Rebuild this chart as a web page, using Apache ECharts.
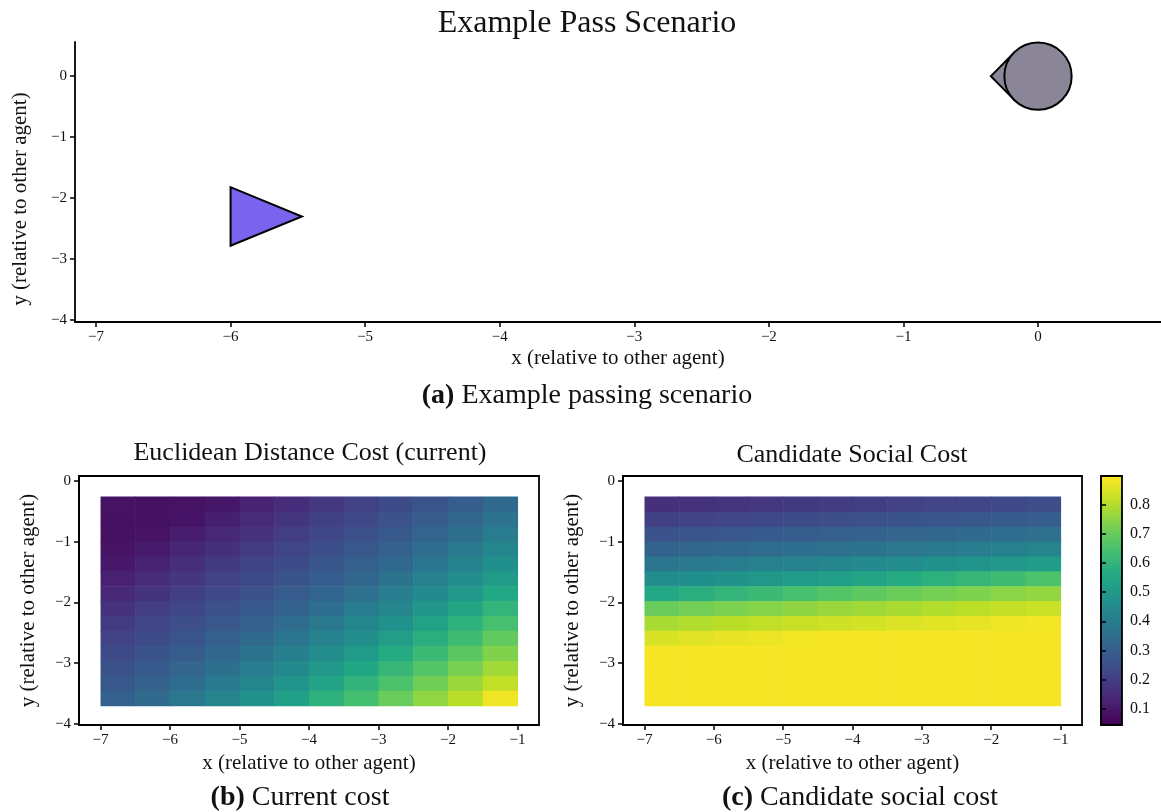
<!DOCTYPE html>
<html>
<head>
<meta charset="utf-8">
<script src="https://cdn.jsdelivr.net/npm/echarts@6/dist/echarts.min.js"></script>
<style>
html, body { margin: 0; padding: 0; background: #fff; }
#chartData { width: 1161px; height: 812px; }
</style>
</head>
<body>
<div id="chartData"></div>
<script>
// tick labels
var topXTicks = [-7, -6, -5, -4, -3, -2, -1, 0];
var yTicks = [0, -1, -2, -3, -4];
var heatXTicks = [-7, -6, -5, -4, -3, -2, -1];
var barTicks = [0.1, 0.2, 0.3, 0.4, 0.5, 0.6, 0.7, 0.8];

// (a) agents: ego triangle vertices, other agent [x, y, radius], its heading nose
var egoTriangle = [[-6.0, -1.82], [-6.0, -2.78], [-5.47, -2.30]];
var otherAgent = [[0, 0, 0.25]];
var otherNose = [[-0.35, 0], [-0.178, 0.385], [-0.178, -0.385]];

// (b)/(c) cost grids, sampled at cell centres
var cellX = [-6.75, -6.25, -5.75, -5.25, -4.75, -4.25, -3.75, -3.25, -2.75, -2.25, -1.75, -1.25];
var cellY = [-0.38, -0.63, -0.88, -1.12, -1.37, -1.61, -1.86, -2.10, -2.35, -2.59, -2.84, -3.09, -3.33, -3.58];

var euclidCost = [
    [0.084, 0.082, 0.084, 0.096, 0.123, 0.151, 0.180, 0.209, 0.237, 0.266, 0.295, 0.330],
    [0.083, 0.083, 0.090, 0.117, 0.145, 0.174, 0.203, 0.231, 0.259, 0.289, 0.323, 0.364],
    [0.082, 0.087, 0.111, 0.139, 0.168, 0.196, 0.225, 0.253, 0.282, 0.316, 0.354, 0.397],
    [0.086, 0.106, 0.133, 0.162, 0.191, 0.219, 0.247, 0.276, 0.308, 0.345, 0.389, 0.431],
    [0.100, 0.127, 0.155, 0.185, 0.213, 0.241, 0.270, 0.301, 0.336, 0.380, 0.422, 0.469],
    [0.121, 0.149, 0.178, 0.207, 0.235, 0.264, 0.293, 0.328, 0.370, 0.413, 0.459, 0.510],
    [0.143, 0.172, 0.201, 0.229, 0.258, 0.287, 0.321, 0.361, 0.404, 0.448, 0.498, 0.556],
    [0.166, 0.195, 0.223, 0.252, 0.281, 0.313, 0.352, 0.395, 0.438, 0.488, 0.544, 0.601],
    [0.189, 0.218, 0.246, 0.274, 0.306, 0.343, 0.387, 0.429, 0.477, 0.532, 0.589, 0.646],
    [0.211, 0.240, 0.268, 0.299, 0.334, 0.377, 0.420, 0.466, 0.519, 0.577, 0.633, 0.691],
    [0.234, 0.262, 0.291, 0.326, 0.368, 0.411, 0.456, 0.507, 0.565, 0.622, 0.679, 0.736],
    [0.256, 0.285, 0.319, 0.359, 0.402, 0.445, 0.496, 0.553, 0.610, 0.667, 0.724, 0.779],
    [0.279, 0.311, 0.349, 0.393, 0.435, 0.484, 0.540, 0.597, 0.654, 0.712, 0.768, 0.818],
    [0.304, 0.340, 0.383, 0.426, 0.474, 0.528, 0.586, 0.642, 0.700, 0.757, 0.808, 0.880]
];

var socialCost = [
    [0.157, 0.164, 0.172, 0.178, 0.186, 0.193, 0.199, 0.207, 0.214, 0.221, 0.230, 0.239],
    [0.204, 0.212, 0.220, 0.228, 0.236, 0.245, 0.252, 0.261, 0.269, 0.277, 0.285, 0.294],
    [0.258, 0.267, 0.275, 0.283, 0.291, 0.300, 0.309, 0.319, 0.329, 0.337, 0.347, 0.357],
    [0.314, 0.324, 0.334, 0.343, 0.353, 0.363, 0.372, 0.382, 0.393, 0.403, 0.415, 0.427],
    [0.379, 0.389, 0.401, 0.412, 0.424, 0.436, 0.446, 0.458, 0.470, 0.483, 0.497, 0.512],
    [0.455, 0.467, 0.480, 0.493, 0.508, 0.526, 0.544, 0.565, 0.588, 0.609, 0.633, 0.655],
    [0.556, 0.577, 0.602, 0.622, 0.646, 0.667, 0.685, 0.705, 0.720, 0.733, 0.748, 0.760],
    [0.700, 0.716, 0.731, 0.744, 0.756, 0.768, 0.778, 0.790, 0.802, 0.812, 0.822, 0.831],
    [0.787, 0.799, 0.811, 0.819, 0.828, 0.837, 0.845, 0.854, 0.863, 0.871, 0.879, 0.887],
    [0.852, 0.861, 0.870, 0.877, 0.886, 0.890, 0.890, 0.890, 0.890, 0.890, 0.890, 0.890],
    [0.890, 0.890, 0.890, 0.890, 0.890, 0.890, 0.890, 0.890, 0.890, 0.890, 0.890, 0.890],
    [0.890, 0.890, 0.890, 0.890, 0.890, 0.890, 0.890, 0.890, 0.890, 0.890, 0.890, 0.890],
    [0.890, 0.890, 0.890, 0.890, 0.890, 0.890, 0.890, 0.890, 0.890, 0.890, 0.890, 0.890],
    [0.890, 0.890, 0.890, 0.890, 0.890, 0.890, 0.890, 0.890, 0.890, 0.890, 0.890, 0.890]
];

var costMin = 0.043;
var costMax = 0.90;

var viridis = ['#440154', '#482475', '#414487', '#355f8d', '#2a788e', '#21918c',
    '#22a884', '#44bf70', '#7ad151', '#bddf26', '#fde725'];

var serif = '"Liberation Serif", "Times New Roman", serif';
var cellW = 0.5, cellH = 0.246;

function toTriples(grid) {
    var out = [];
    for (var i = 0; i < cellY.length; i++) {
        for (var j = 0; j < cellX.length; j++) {
            out.push([cellX[j], cellY[i], grid[i][j]]);
        }
    }
    return out;
}

function minusFmt(v) {
    return v < 0 ? '\u2212' + Math.abs(v) : String(v);
}

function xAxisOf(gridIndex, min, max, ticks, nameGap) {
    return {
        type: 'value', gridIndex: gridIndex, min: min, max: max,
        splitLine: {show: false},
        axisLine: {show: true, onZero: false, lineStyle: {color: '#000', width: 1.8}},
        axisTick: {show: true, customValues: ticks, length: 5, lineStyle: {color: '#000', width: 1.5}},
        axisLabel: {customValues: ticks, formatter: minusFmt, margin: 8,
            fontFamily: serif, fontSize: 15, color: '#111'},
        name: 'x (relative to other agent)', nameLocation: 'middle', nameGap: nameGap,
        nameTextStyle: {fontFamily: serif, fontSize: 21, color: '#111'}
    };
}

function yAxisOf(gridIndex, min, max, nameGap, namePad) {
    return {
        type: 'value', gridIndex: gridIndex, min: min, max: max,
        splitLine: {show: false},
        axisLine: {show: true, onZero: false, lineStyle: {color: '#000', width: 1.8}},
        axisTick: {show: true, customValues: yTicks, length: 5, lineStyle: {color: '#000', width: 1.5}},
        axisLabel: {customValues: yTicks, formatter: minusFmt, margin: 8,
            fontFamily: serif, fontSize: 15, color: '#111'},
        name: 'y (relative to other agent)', nameLocation: 'middle', nameGap: nameGap,
        nameTextStyle: {fontFamily: serif, fontSize: 21, color: '#111', padding: namePad || 0}
    };
}

function renderCell(params, api) {
    var p = api.coord([api.value(0), api.value(1)]);
    var s = api.size([cellW, cellH]);
    return {
        type: 'rect',
        shape: {x: p[0] - s[0] / 2, y: p[1] - s[1] / 2, width: s[0] + 0.6, height: s[1] + 0.6},
        style: {fill: api.visual('color')}
    };
}

function caption(tag, text, left, top) {
    return {
        text: '{b|' + tag + '} ' + text, left: left, top: top, textAlign: 'center', padding: 0,
        textStyle: {fontFamily: serif, fontSize: 28, fontWeight: 'normal', color: '#111',
            rich: {b: {fontFamily: serif, fontSize: 28, fontWeight: 'bold', color: '#111'}}}
    };
}

var myChart = echarts.init(document.getElementById('chartData'));

var option = {
    backgroundColor: '#fff',
    animation: false,
    title: [
        {text: 'Example Pass Scenario', left: 587, top: 8, textAlign: 'center', padding: 0,
            textStyle: {fontFamily: serif, fontSize: 32, fontWeight: 'normal', color: '#111'}},
        caption('(a)', 'Example passing scenario', 587, 382),
        {text: 'Euclidean Distance Cost (current)', left: 310, top: 440, textAlign: 'center', padding: 0,
            textStyle: {fontFamily: serif, fontSize: 26, fontWeight: 'normal', color: '#111'}},
        {text: 'Candidate Social Cost', left: 852, top: 442, textAlign: 'center', padding: 0,
            textStyle: {fontFamily: serif, fontSize: 26, fontWeight: 'normal', color: '#111'}},
        caption('(b)', 'Current cost', 300, 784),
        caption('(c)', 'Candidate social cost', 860, 784)
    ],
    grid: [
        {left: 75, right: 0, top: 42, bottom: 490, outerBoundsMode: 'none'},
        {left: 79, right: 622, top: 476, bottom: 87, outerBoundsMode: 'none',
            show: true, borderColor: '#000', borderWidth: 1.8, backgroundColor: 'transparent'},
        {left: 623, right: 79, top: 476, bottom: 87, outerBoundsMode: 'none',
            show: true, borderColor: '#000', borderWidth: 1.8, backgroundColor: 'transparent'},
        {left: 1101, right: 39, top: 476, bottom: 87, outerBoundsMode: 'none', z: 10,
            show: true, borderColor: '#000', borderWidth: 1.8, backgroundColor: 'transparent'}
    ],
    xAxis: [
        xAxisOf(0, -7.156, 0.914, topXTicks, 26),
        xAxisOf(1, -7.31, -0.69, heatXTicks, 28),
        xAxisOf(2, -7.31, -0.69, heatXTicks, 28),
        {type: 'value', gridIndex: 3, min: 0, max: 1, show: false}
    ],
    yAxis: [
        yAxisOf(0, -4.03, 0.56, 44, [0, 34, 0, 0]),
        yAxisOf(1, -4.02, 0.08, 40),
        yAxisOf(2, -4.02, 0.08, 40),
        {
            type: 'value', gridIndex: 3, min: costMin, max: costMax, position: 'right', z: 10,
            splitLine: {show: false},
            axisLine: {show: true, lineStyle: {color: '#000', width: 1.8}},
            axisTick: {show: true, customValues: barTicks, length: 5, lineStyle: {color: '#000', width: 1.5}},
            axisLabel: {customValues: barTicks, margin: 8, formatter: function (v) { return v.toFixed(1); },
                fontFamily: serif, fontSize: 16, color: '#111'}
        }
    ],
    visualMap: {
        type: 'continuous',
        seriesIndex: [2, 3],
        dimension: 2,
        min: costMin,
        max: costMax,
        left: 1101,
        top: 476,
        itemWidth: 21,
        itemHeight: 249,
        padding: 0,
        text: null,
        calculable: false,
        hoverLink: false,
        inRange: {color: viridis}
    },
    series: [
        {
            name: 'ego', type: 'custom', xAxisIndex: 0, yAxisIndex: 0,
            data: egoTriangle, encode: {x: 0, y: 1},
            renderItem: function (params, api) {
                if (params.dataIndex !== 0) return;
                var pts = egoTriangle.map(function (p) { return api.coord(p); });
                return {type: 'polygon', shape: {points: pts},
                    style: {fill: '#7a63ef', stroke: '#000', lineWidth: 2}};
            }
        },
        {
            name: 'other', type: 'custom', xAxisIndex: 0, yAxisIndex: 0,
            data: otherAgent, encode: {x: 0, y: 1},
            renderItem: function (params, api) {
                var c = api.coord([api.value(0), api.value(1)]);
                var r = api.size([api.value(2), 0])[0];
                var nose = otherNose.map(function (p) { return api.coord(p); });
                return {type: 'group', children: [
                    {type: 'polygon', shape: {points: nose},
                        style: {fill: '#8a8698', stroke: '#000', lineWidth: 2}},
                    {type: 'circle', shape: {cx: c[0], cy: c[1], r: r},
                        style: {fill: '#8a8698', stroke: '#000', lineWidth: 2}}
                ]};
            }
        },
        {
            name: 'euclid', type: 'custom', xAxisIndex: 1, yAxisIndex: 1,
            data: toTriples(euclidCost), encode: {x: 0, y: 1},
            renderItem: renderCell
        },
        {
            name: 'social', type: 'custom', xAxisIndex: 2, yAxisIndex: 2,
            data: toTriples(socialCost), encode: {x: 0, y: 1},
            renderItem: renderCell
        }
    ]
};

myChart.setOption(option);
</script>
</body>
</html>
